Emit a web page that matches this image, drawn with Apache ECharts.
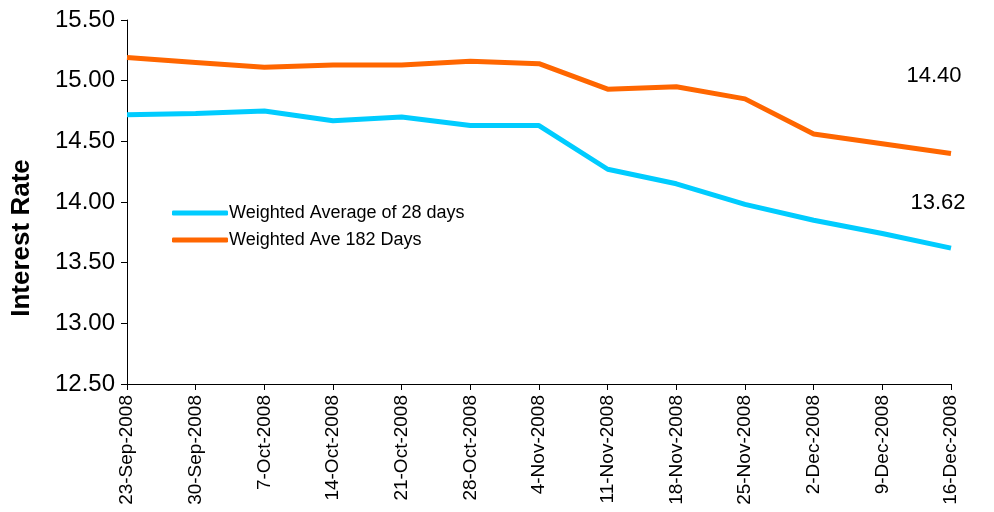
<!DOCTYPE html>
<html>
<head>
<meta charset="utf-8">
<title>Interest Rate</title>
<script src="https://cdn.jsdelivr.net/npm/echarts@6/dist/echarts.min.js"></script>
<style>
  html, body { margin: 0; padding: 0; background: #fff; }
  #chart { width: 994px; height: 512px; }
</style>
</head>
<body>
<div id="chart"></div>
<script>
// ---------------------------- chart data ----------------------------
var dates = [
  '23-Sep-2008', '30-Sep-2008', '7-Oct-2008', '14-Oct-2008', '21-Oct-2008',
  '28-Oct-2008', '4-Nov-2008', '11-Nov-2008', '18-Nov-2008', '25-Nov-2008',
  '2-Dec-2008', '9-Dec-2008', '16-Dec-2008'
];
var days28 = [14.72, 14.73, 14.75, 14.67, 14.70, 14.63, 14.63, 14.27, 14.15, 13.98, 13.85, 13.74, 13.62];
var days182 = [15.19, 15.15, 15.11, 15.13, 15.13, 15.16, 15.14, 14.93, 14.95, 14.85, 14.56, 14.48, 14.40];
var seriesNames = ['Weighted Average of 28 days', 'Weighted Ave 182 Days'];
var yMin = 12.5, yMax = 15.5, yStep = 0.5;

var FONT = '"Liberation Sans", Arial, sans-serif';

// value label for the last point, shifted off the line like the original
var endMark = function (values, offset) {
  var last = values.length - 1;
  return {
    silent : true,
    symbol : 'circle',
    symbolSize : 1,
    itemStyle : { color : 'rgba(0,0,0,0)' },
    label : {
      show : true,
      position : 'inside',
      offset : offset,
      color : '#000',
      fontSize : 22,
      fontFamily : FONT,
      formatter : function (p) { return p.value.toFixed(2); }
    },
    data : [{ coord : [last, values[last]], value : values[last] }]
  };
};

var myChart = echarts.init(document.getElementById('chart'));

myChart.setOption({
  animation : false,
  backgroundColor : '#fff',
  textStyle : { fontFamily : FONT },
  grid : { left : 127, right : 43, top : 20, bottom : 128 },
  legend : {
    orient : 'vertical',
    left : 167,
    top : 199,
    itemGap : 9,
    itemWidth : 56,
    itemHeight : 5,
    icon : 'roundRect',
    textStyle : { fontSize : 18, color : '#000', fontFamily : FONT, padding : [0, 0, 0, -4] },
    data : seriesNames
  },
  xAxis : {
    type : 'category',
    boundaryGap : false,
    data : dates,
    axisLine : { lineStyle : { color : '#000', width : 1 } },
    axisTick : { alignWithLabel : true, length : 6, lineStyle : { color : '#000' } },
    axisLabel : {
      rotate : 90,
      interval : 0,
      margin : 11,
      fontSize : 19,
      color : '#000',
      fontFamily : FONT
    }
  },
  yAxis : {
    type : 'value',
    min : yMin,
    max : yMax,
    interval : yStep,
    name : 'Interest Rate',
    nameLocation : 'middle',
    nameGap : 92,
    nameRotate : 90,
    nameTextStyle : {
      fontSize : 26,
      fontWeight : 'bold',
      color : '#000',
      fontFamily : FONT,
      padding : [0, 72, 0, 0]
    },
    axisLine : { show : true, lineStyle : { color : '#000', width : 1 } },
    axisTick : { show : true, length : 6, lineStyle : { color : '#000' } },
    splitLine : { show : false },
    axisLabel : {
      fontSize : 24,
      color : '#000',
      margin : 12,
      fontFamily : FONT,
      formatter : function (v) { return v.toFixed(2); }
    }
  },
  series : [
    {
      name : seriesNames[0],
      type : 'line',
      data : days28,
      symbol : 'none',
      lineStyle : { color : '#00CCFF', width : 5 },
      itemStyle : { color : '#00CCFF' },
      markPoint : endMark(days28, [-13, -45])
    },
    {
      name : seriesNames[1],
      type : 'line',
      data : days182,
      symbol : 'none',
      lineStyle : { color : '#FF6600', width : 5 },
      itemStyle : { color : '#FF6600' },
      markPoint : endMark(days182, [-17, -78])
    }
  ]
});
</script>
</body>
</html>
